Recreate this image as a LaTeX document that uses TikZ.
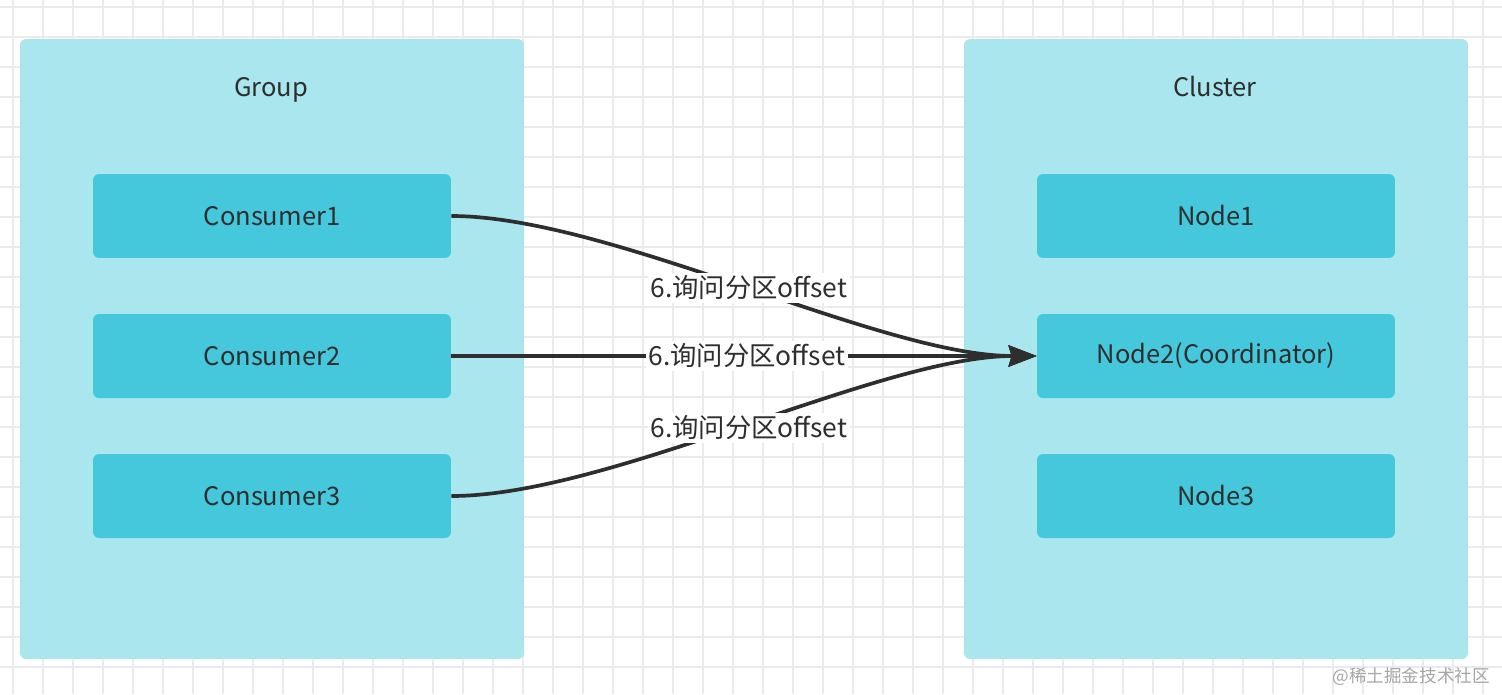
\documentclass[tikz,border=0pt]{standalone}
\usepackage{fontspec}
\newfontfamily\cjk{Noto Sans CJK SC}
\usetikzlibrary{arrows.meta}
\definecolor{gridgray}{HTML}{EBEBEB}
\definecolor{outerblue}{HTML}{A9E6EE}
\definecolor{innerblue}{HTML}{45C8DC}
\definecolor{ink}{HTML}{2E2E2E}
\tikzset{
  outerbox/.style={fill=outerblue,rounded corners=0.12cm,minimum width=10.08cm,minimum height=12.4cm},
  innerbox/.style={fill=innerblue,rounded corners=0.12cm,minimum width=7.16cm,minimum height=1.68cm,text=ink,font=\cjk\fontsize{14.5}{16}\selectfont},
  title/.style={text=ink,anchor=base,font=\cjk\fontsize{14.5}{16}\selectfont},
  msg/.style={fill=white,inner sep=1.5pt,text=ink,font=\cjk\fontsize{15}{17}\selectfont},
  link/.style={draw=ink,line width=2.1pt,-{Stealth[length=0.56cm,width=0.42cm,inset=0.06cm]}}
}
\begin{document}
\begin{tikzpicture}[x=0.02cm,y=-0.02cm,line join=round]
\useasboundingbox (0,0) rectangle (1502,694);
\fill[white] (0,0) rectangle (1502,694);
% background grid
\foreach \x in {13,43,...,1502} {\draw[gridgray,line width=1pt] (\x,0)--(\x,694);}
\foreach \y in {7,37,...,694} {\draw[gridgray,line width=1pt] (0,\y)--(1502,\y);}
% the two groups
\node[outerbox] (group) at (272,349) {};
\node[outerbox] (cluster) at (1216,349) {};
\node[title] (grouptitle) at (271,96) {Group};
\node[title] (clustertitle) at (1215,96) {Cluster};
\node[innerbox] (c1) at (272,216) {Consumer1};
\node[innerbox] (c2) at (272,356) {Consumer2};
\node[innerbox] (c3) at (272,496) {Consumer3};
\node[innerbox] (n1) at (1216,216) {Node1};
\node[innerbox] (n2) at (1216,356) {Node2(Coordinator)};
\node[innerbox] (n3) at (1216,496) {Node3};
% requests
\draw[link] (c1.east) .. controls (610,216) and (880,356) .. (n2.west)
  node[msg,pos=0.5,xshift=0.08cm,yshift=-0.04cm] (m1) {6.询问分区offset};
\draw[link] (c2.east) -- (n2.west)
  node[msg,pos=0.505] (m2) {6.询问分区offset};
\draw[link] (c3.east) .. controls (610,496) and (880,356) .. (n2.west)
  node[msg,pos=0.5,xshift=0.08cm,yshift=-0.04cm] (m3) {6.询问分区offset};
\node[text=gray!70,font=\cjk\fontsize{10}{12}\selectfont,anchor=east] (mark) at (1496,677) {@稀土掘金技术社区};
\end{tikzpicture}
\end{document}
